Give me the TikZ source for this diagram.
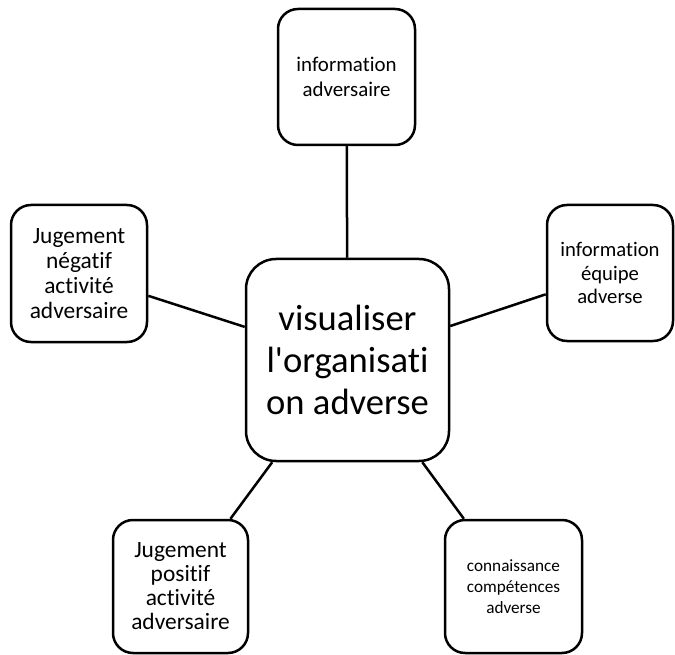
\documentclass[tikz,border=0pt]{standalone}
\usepackage{fontspec}
\setmainfont{Carlito}[Ligatures={TeXOff,NoCommon}]
\begin{document}
\begin{tikzpicture}[x=1pt,y=-1pt,
  box/.style={draw=black,line width=2.5pt,rounded corners=20pt,fill=white,
    inner sep=0pt,align=center,anchor=center},
  link/.style={draw=black,line width=2.5pt}]
\useasboundingbox (0,0) rectangle (675,655);
\node[box,minimum width=203pt,minimum height=202pt,rounded corners=30pt,
  font=\fontsize{36.6}{42}\selectfont] (c) at (347.5,360)
  {visualiser\\l'organisati\\on adverse};
\node[box,minimum width=137pt,minimum height=136pt,
  font=\fontsize{20.9}{25}\selectfont] (t) at (346.5,77)
  {information\\adversaire};
\node[box,minimum width=136pt,minimum height=137pt,
  font=\fontsize{23.4}{25}\selectfont] (l) at (79,273.5)
  {Jugement\\négatif\\activité\\adversaire};
\node[box,minimum width=126pt,minimum height=136pt,
  font=\fontsize{20.7}{23.3}\selectfont] (r) at (610,273)
  {information\\équipe\\adverse};
\node[box,minimum width=135pt,minimum height=133pt,
  font=\fontsize{23.4}{24}\selectfont] (bl) at (180.5,586.5)
  {Jugement\\positif\\activité\\adversaire};
\node[box,minimum width=137pt,minimum height=133pt,
  font=\fontsize{17.2}{20.7}\selectfont] (br) at (513.5,586.5)
  {connaissance\\compétences\\adverse};
\draw[link] (t) -- (c);
\draw[link] (l) -- (c);
\draw[link] (r) -- (c);
\draw[link] (bl) -- (c);
\draw[link] (br) -- (c);
\end{tikzpicture}
\end{document}
